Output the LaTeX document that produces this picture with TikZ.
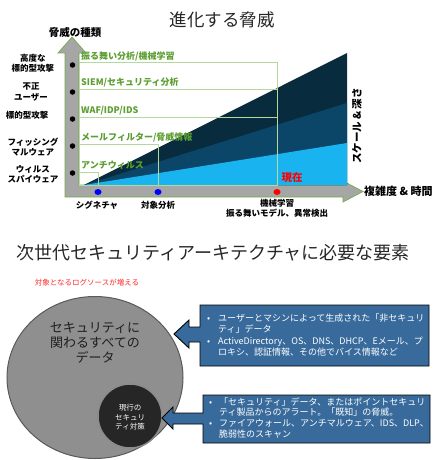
\documentclass[tikz,border=0pt]{standalone}
\usepackage{fontspec}
\setmainfont{Noto Sans CJK JP}
\usetikzlibrary{shapes.geometric}
\definecolor{cdark}{HTML}{082B3E}
\definecolor{cmid}{HTML}{0B4567}
\definecolor{clight}{HTML}{19B3F0}
\definecolor{tgreen}{HTML}{5C9E31}
\definecolor{lgreen}{HTML}{B5D99C}
\definecolor{agreen}{HTML}{6FAD47}
\definecolor{agray}{HTML}{A6A6A6}
\definecolor{boxblue}{HTML}{386B9C}
\definecolor{ttl}{HTML}{262626}
\begin{document}
\begin{tikzpicture}[x=1pt,y=-1pt,
  lbl/.style={font=\bfseries\fontsize{8.5}{10.5}\selectfont, align=center, inner sep=0},
  glbl/.style={font=\bfseries\fontsize{9}{10}\selectfont, text=tgreen, anchor=south west, inner sep=0},
  gbox/.style={draw=lgreen, line width=0.6pt},
  bdot/.style={circle, fill=black, inner sep=0, minimum size=5.5pt},
  xdot/.style={ellipse, inner sep=0, minimum width=7pt, minimum height=6pt},
  btxt/.style={font=\fontsize{9}{11}\selectfont, text=white, anchor=base west, inner sep=0},
  callout/.style={fill=boxblue, draw=black, line width=0.9pt},
  ttlf/.style={font=\fontsize{17.5}{20}\selectfont, text=ttl, inner sep=0}]
\useasboundingbox (0,0) rectangle (440,460);
% ---------- top chart ----------
\node[ttlf] (t1) at (222,20) {進化する脅威};
\node[font=\bfseries\fontsize{10.5}{12}\selectfont, inner sep=0] (yax) at (75,32) {脅威の種類};
% L-shaped arrow
\draw[fill=agray, draw=agreen, line width=0.7pt]
  (65,197) -- (65,53) -- (58,53) -- (72,37) -- (86,53) -- (79,53) -- (79,185)
  -- (343,185) -- (343,181) -- (363,191.5) -- (343,202) -- (343,197) -- cycle;
% layered triangles
\fill[cdark] (84,185) -- (347,53) -- (347,185) -- cycle;
\fill[cmid] (84,185) -- (347,103) -- (347,185) -- cycle;
\fill[clight] (84,185) -- (347,143) -- (347,185) -- cycle;
% green boxes
\draw[gbox] (79,62) rectangle (277,185);
\draw[gbox] (79,89) -- (277,89);
\draw[gbox] (79,117) -- (277,117);
\draw[gbox] (79,144) rectangle (158,185);
\draw[gbox] (79,172) rectangle (98,185);
% green labels
\node[glbl] (g1) at (81,61) {振る舞い分析/機械学習};
\node[glbl] (g2) at (81,87.5) {SIEM/セキュリティ分析};
\node[glbl] (g3) at (81,115.5) {WAF/IDP/IDS};
\node[glbl] (g4) at (81,142.5) {メールフィルター/脅威情報};
\node[glbl] (g5) at (81,170) {アンチウィルス};
% black dots on y axis
\node[bdot] (d1) at (72.5,65) {};
\node[bdot] (d2) at (72.5,92) {};
\node[bdot] (d3) at (72.5,119) {};
\node[bdot] (d4) at (72.5,146) {};
\node[bdot] (d5) at (72.5,173) {};
% left labels
\node[lbl] (l1) at (33,63.5) {高度な\\標的型攻撃};
\node[lbl] (l2) at (31,92) {不正\\ユーザー};
\node[lbl] (l3) at (27,115.5) {標的型攻撃};
\node[lbl] (l4) at (33,147) {フィッシング\\マルウェア};
\node[lbl] (l5) at (33,174.5) {ウィルス\\スパイウェア};
% x axis dots
\node[xdot, fill=blue] (x1) at (98,192) {};
\node[xdot, fill=blue] (x2) at (158,192) {};
\node[xdot, fill=red] (x3) at (277,192) {};
\node[font=\bfseries\fontsize{10.5}{12}\selectfont, text=red, inner sep=0] (now) at (292,178) {現在};
% bottom labels
\node[lbl] (b1) at (97,205) {シグネチャ};
\node[lbl] (b2) at (158,205) {対象分析};
\node[lbl] (b3) at (277,208.5) {機械学習\\振る舞いモデル、異常検出};
% axis names
\node[font=\bfseries\fontsize{11}{12}\selectfont, anchor=west, inner sep=0] (xax) at (364,191) {複雑度 \& 時間};
\node[font=\bfseries\fontsize{10.5}{12}\selectfont, rotate=90, inner sep=0] (zax) at (357,126) {スケール \& 深さ};
% ---------- bottom section ----------
\node[ttlf, font=\fontsize{18}{20}\selectfont] (t2) at (213,253) {次世代セキュリティアーキテクチャに必要な要素};
\node[font=\fontsize{7.5}{9}\selectfont, text=red!85!white, inner sep=0] (inc) at (87,283) {対象となるログソースが増える};
\node[ellipse, fill=black!44, draw=black!65, line width=1pt, minimum width=176pt, minimum height=162pt, inner sep=0] (big) at (95,377.5) {};
\node[font=\fontsize{13}{15}\selectfont, text=black!88, align=center, inner sep=0] (bigt) at (95,343) {セキュリティに\\関わるすべての\\データ};
\node[circle, fill=black!85, draw=black!45, line width=1.5pt, minimum size=64pt, inner sep=0] (small) at (130,416) {};
\node[font=\fontsize{7.5}{9.5}\selectfont, text=white, align=center, inner sep=0] (smallt) at (130,417.5) {現行の\\セキュリ\\ティ対策};
% callout 1
\draw[callout] (200,305) -- (429,305) -- (429,366) -- (200,366) -- (200,342)
  -- (189,342) -- (189,348) -- (174,334) -- (189,320) -- (189,327) -- (200,327) -- cycle;
\node[btxt] (c1b1) at (207,321) {•};
\node[btxt] (c1a) at (218,321) {ユーザーとマシンによって生成された「非セキュリ};
\node[btxt] (c1b) at (218,332.5) {ティ」データ};
\node[btxt] (c1b2) at (207,344) {•};
\node[btxt] (c1c) at (218,344) {ActiveDirectory、OS、DNS、DHCP、Eメール、プ};
\node[btxt] (c1d) at (218,355.5) {ロキシ、認証情報、その他でバイス情報など};
% callout 2
\draw[callout] (203,395) -- (430,395) -- (430,443) -- (203,443) -- (203,424)
  -- (173,424) -- (173,429) -- (162,418) -- (173,407) -- (173,413) -- (203,413) -- cycle;
\node[btxt] (c2b1) at (209,405) {•};
\node[btxt] (c2a) at (219,405) {「セキュリティ」データ、またはポイントセキュリ};
\node[btxt] (c2b) at (219,415.5) {ティ製品からのアラート。「既知」の脅威。};
\node[btxt] (c2b2) at (209,426) {•};
\node[btxt] (c2c) at (219,426) {ファイアウォール、アンチマルウェア、IDS、DLP、};
\node[btxt] (c2d) at (219,437) {脆弱性のスキャン};
\end{tikzpicture}
\end{document}
